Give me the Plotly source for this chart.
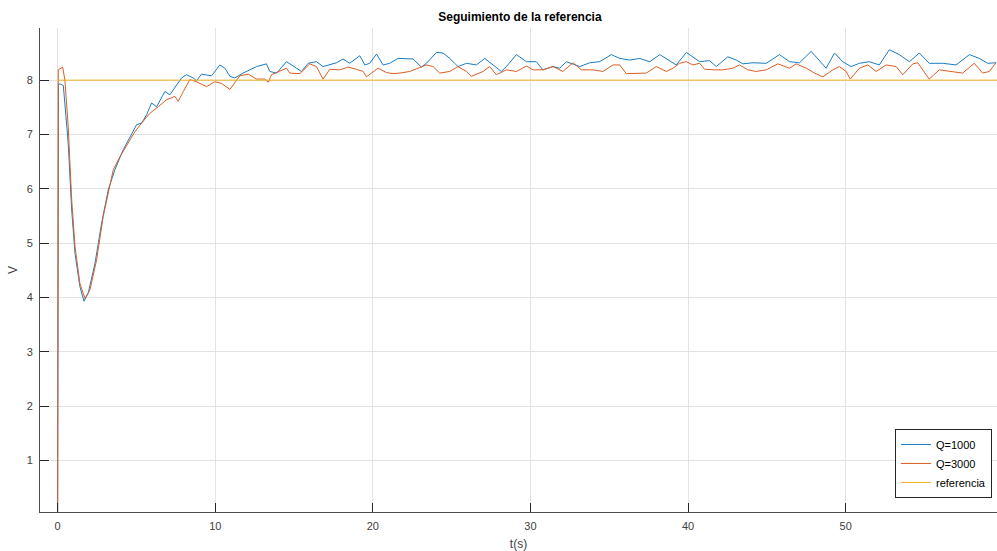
import plotly.graph_objects as go

# Q=1000 series
t_q1000 = [0, 0.05, 0.15, 0.36, 0.67, 0.89, 1.1, 1.41, 1.67, 1.94,
           2.37, 2.79, 3.21, 3.63, 4.16, 4.69, 5.01, 5.33, 5.64, 5.96,
           6.28, 6.8, 7.12, 7.55, 7.86, 8.18, 8.6, 8.81, 9.13, 9.77,
           10.29, 10.61, 10.93, 11.24, 11.77, 12.62, 12.94, 13.25, 13.46, 13.89,
           14.52, 15.16, 15.47, 15.89, 16.42, 16.84, 17.37, 17.69, 18.11, 18.53,
           19.17, 19.49, 19.8, 20.23, 20.65, 21.07, 21.6, 22.13, 22.55, 23.08,
           23.4, 24.03, 24.45, 24.88, 25.4, 25.94, 26.57, 27.1, 27.62, 28.15,
           28.47, 29.11, 29.74, 30.37, 30.79, 31.43, 31.85, 32.28, 33.12, 33.76,
           34.39, 35.13, 35.66, 36.3, 36.93, 37.57, 38.2, 38.62, 39.25, 39.89,
           40.41, 40.73, 41.36, 41.79, 42.52, 43.06, 43.48, 44.11, 44.96, 45.8,
           46.44, 47.07, 47.81, 48.23, 48.76, 49.29, 49.81, 50.34, 50.87, 51.5,
           52.13, 52.77, 53.4, 54.04, 54.67, 55.3, 56.16, 57.0, 57.85, 58.48,
           59.01, 59.54]
v_q1000 = [0, 7.93, 7.93, 7.90, 6.84, 5.61, 4.81, 4.2, 3.93, 4.08,
           4.63, 5.37, 5.98, 6.35, 6.72, 6.99, 7.18, 7.21, 7.36, 7.58,
           7.51, 7.79, 7.73, 7.91, 8.04, 8.10, 8.04, 7.99, 8.11, 8.08,
           8.28, 8.22, 8.07, 8.04, 8.13, 8.25, 8.28, 8.30, 8.16, 8.13,
           8.34, 8.22, 8.16, 8.31, 8.34, 8.25, 8.30, 8.32, 8.39, 8.31,
           8.45, 8.28, 8.31, 8.48, 8.28, 8.31, 8.40, 8.40, 8.39, 8.24,
           8.31, 8.51, 8.50, 8.40, 8.25, 8.31, 8.28, 8.40, 8.28, 8.16,
           8.25, 8.47, 8.34, 8.34, 8.19, 8.25, 8.22, 8.34, 8.25, 8.32,
           8.34, 8.47, 8.40, 8.37, 8.40, 8.34, 8.47, 8.40, 8.28, 8.51,
           8.40, 8.34, 8.36, 8.25, 8.43, 8.37, 8.30, 8.32, 8.31, 8.47,
           8.34, 8.32, 8.53, 8.40, 8.22, 8.50, 8.34, 8.25, 8.31, 8.34,
           8.28, 8.56, 8.47, 8.34, 8.50, 8.31, 8.31, 8.28, 8.47, 8.40,
           8.31, 8.32]

# Q=3000 series
t_q3000 = [0, 0.04, 0.32, 0.46, 0.67, 0.89, 1.1, 1.41, 1.73, 2.05,
           2.47, 2.89, 3.21, 3.53, 3.95, 4.48, 4.9, 5.33, 5.85, 6.38,
           6.91, 7.44, 7.65, 7.97, 8.39, 8.81, 9.45, 9.97, 10.4, 10.93,
           11.56, 12.09, 12.62, 13.15, 13.36, 13.57, 13.99, 14.52, 14.73, 15.37,
           16.0, 16.42, 16.84, 17.27, 17.9, 18.43, 18.96, 19.38, 19.59, 20.33,
           20.86, 21.28, 21.71, 22.34, 22.87, 23.4, 23.82, 24.24, 24.88, 25.4,
           25.94, 26.25, 26.99, 27.41, 27.84, 28.47, 29.11, 29.74, 30.16, 30.79,
           31.43, 32.06, 32.7, 33.23, 33.96, 34.6, 35.23, 35.66, 36.08, 36.72,
           37.35, 37.98, 38.62, 39.04, 39.46, 39.89, 40.3, 40.73, 41.05, 41.68,
           42.2, 42.84, 43.26, 43.79, 44.32, 44.96, 45.69, 46.44, 46.86, 47.5,
           48.02, 48.55, 49.18, 49.6, 50.03, 50.29, 50.87, 51.4, 51.93, 52.57,
           53.2, 53.62, 54.26, 54.57, 55.3, 55.94, 56.57, 57.42, 58.16, 58.69,
           59.11, 59.54]
v_q3000 = [0, 8.19, 8.24, 8.0, 7.15, 5.8, 4.94, 4.26, 3.98, 4.14,
           4.69, 5.49, 5.92, 6.35, 6.59, 6.84, 7.05, 7.21, 7.39, 7.51,
           7.64, 7.70, 7.61, 7.79, 8.01, 7.97, 7.88, 7.97, 7.94, 7.83,
           8.08, 8.11, 8.02, 8.02, 7.96, 8.10, 8.15, 8.22, 8.13, 8.12,
           8.30, 8.25, 8.02, 8.20, 8.19, 8.24, 8.20, 8.16, 8.06, 8.22,
           8.14, 8.12, 8.13, 8.16, 8.22, 8.28, 8.25, 8.13, 8.16, 8.25,
           8.16, 8.07, 8.16, 8.25, 8.10, 8.19, 8.16, 8.26, 8.19, 8.19,
           8.25, 8.16, 8.32, 8.19, 8.19, 8.16, 8.28, 8.28, 8.12, 8.13,
           8.13, 8.25, 8.16, 8.22, 8.31, 8.34, 8.28, 8.31, 8.20, 8.19,
           8.19, 8.22, 8.28, 8.19, 8.16, 8.19, 8.30, 8.22, 8.30, 8.22,
           8.13, 8.06, 8.19, 8.25, 8.16, 8.02, 8.22, 8.28, 8.16, 8.28,
           8.25, 8.10, 8.30, 8.32, 8.02, 8.19, 8.16, 8.13, 8.31, 8.13,
           8.16, 8.32]

# reference
t_ref = [0, 60]
v_ref = [8, 8]

print(len(t_q1000), len(v_q1000), len(t_q3000), len(v_q3000))

x_ticks = [0, 10, 20, 30, 40, 50]
y_ticks = [1, 2, 3, 4, 5, 6, 7, 8]

FONT = "Liberation Sans, Arial, sans-serif"

fig = go.Figure()
fig.add_trace(go.Scatter(x=t_q1000, y=v_q1000, mode="lines", name="Q=1000",
                         line=dict(color="#1a7cc6", width=1)))
fig.add_trace(go.Scatter(x=t_q3000, y=v_q3000, mode="lines", name="Q=3000",
                         line=dict(color="#dc5d22", width=1)))
fig.add_trace(go.Scatter(x=t_ref, y=v_ref, mode="lines", name="referencia",
                         line=dict(color="#EDB120", width=1)))

fig.update_layout(
    width=997, height=551,
    margin=dict(l=40, r=0, t=28, b=39),
    paper_bgcolor="white", plot_bgcolor="white",
    font=dict(family=FONT, size=11, color="#404040"),
    title=dict(text="<b>Seguimiento de la referencia</b>", x=0.5215, xanchor="center",
               y=1 - 17 / 551, yanchor="middle", yref="container",
               font=dict(family=FONT, size=12, color="#000000")),
    showlegend=True,
    legend=dict(x=0.9948, y=0.029, xanchor="right", yanchor="bottom",
                bgcolor="white", bordercolor="#262626", borderwidth=1,
                font=dict(family=FONT, size=11, color="#000000"),
                tracegroupgap=0, itemwidth=30),
    xaxis=dict(range=[-1.12, 59.6], tickvals=x_ticks, ticks="inside", ticklen=9,
               tickcolor="#262626", showline=True, linecolor="#4d4d4d", linewidth=1,
               showgrid=True, gridcolor="#e3e3e3", zeroline=False, mirror=False,
               title=dict(text="t(s)", font=dict(size=12, color="#404040"), standoff=8),
               ticklabelstandoff=4),
    yaxis=dict(range=[0.05, 8.96], tickvals=y_ticks, ticks="inside", ticklen=9,
               tickcolor="#262626", showline=True, linecolor="#4d4d4d", linewidth=1,
               showgrid=True, gridcolor="#e3e3e3", zeroline=False, mirror=False,
               title=dict(text="V", font=dict(size=12, color="#404040"), standoff=6),
               ticklabelstandoff=4),
)

fig.write_html("out.html")
